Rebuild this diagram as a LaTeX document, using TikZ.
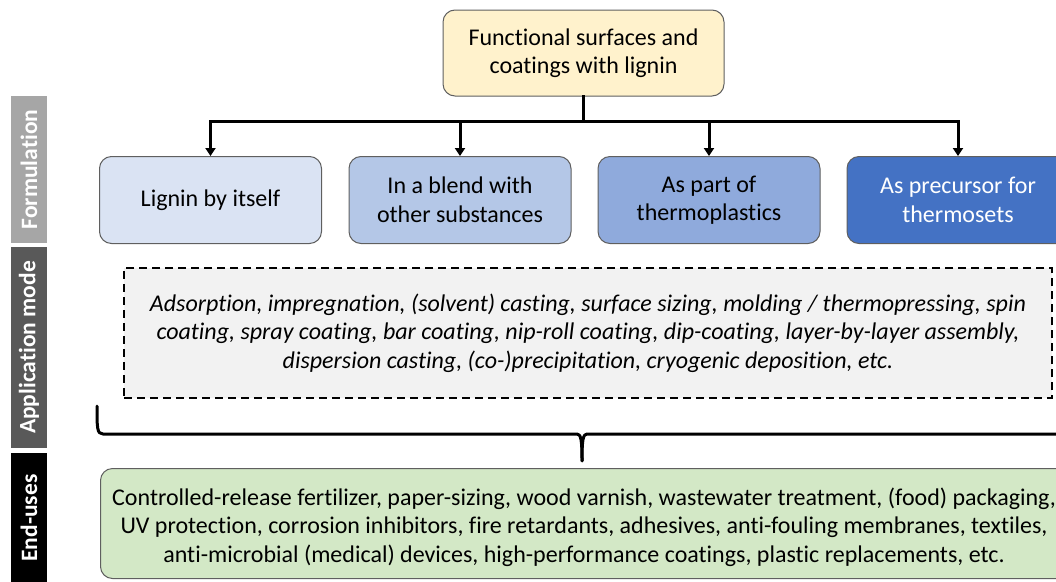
\documentclass[tikz,border=0pt]{standalone}
\usepackage{fontspec}
\setmainfont{Carlito}[RawFeature={-liga;-clig;-calt;-dlig}]
\usetikzlibrary{arrows.meta}
\definecolor{topfill}{HTML}{FFF2CC}
\definecolor{bfa}{HTML}{DAE3F3}
\definecolor{bfb}{HTML}{B4C7E7}
\definecolor{bfc}{HTML}{8FAADC}
\definecolor{bfd}{HTML}{4472C4}
\definecolor{dashfill}{HTML}{F2F2F2}
\definecolor{greenfill}{HTML}{D3E8C6}
\definecolor{bordergrey}{HTML}{5F5F5F}
\definecolor{labA}{HTML}{A6A6A6}
\definecolor{labB}{HTML}{595959}
\tikzset{
  x=1pt, y=-1pt,
  roundbox/.style={draw=bordergrey, line width=1pt, rounded corners=12pt, inner sep=0pt, align=center,
    font=\fontsize{24}{28.5}\selectfont},
  sidelabel/.style={inner sep=0pt, text=white, font=\bfseries\fontsize{23.5}{26}\selectfont},
  conn/.style={line width=3pt, line cap=rect},
  arr/.style={line width=3pt, -{Triangle[length=8pt,width=10pt]}},
}
\begin{document}
\begin{tikzpicture}
\useasboundingbox (0,0) rectangle (1056,581);
\begin{scope}
\clip (0,0) rectangle (1056,581);
% top
\node[roundbox, fill=topfill, minimum width=281pt, minimum height=86pt] (top) at (583.5,53) {Functional surfaces and\\coatings with lignin};
% formulation boxes
\node[roundbox, fill=bfa, minimum width=222pt, minimum height=87pt] (f1) at (210.5,200) {Lignin by itself};
\node[roundbox, fill=bfb, minimum width=222pt, minimum height=87pt] (f2) at (460,200) {In a blend with\\other substances};
\node[roundbox, fill=bfc, minimum width=222pt, minimum height=87pt] (f3) at (709,200) {As part of\\thermoplastics};
\node[roundbox, fill=bfd, text=white, minimum width=222pt, minimum height=87pt] (f4) at (958,200) {As precursor for\\thermosets};
% connectors
\coordinate (hub) at (top.south |- 0,121);
\draw[conn] (top.south) -- (hub);
\draw[conn] (f1.north |- hub) -- (f4.north |- hub);
\foreach \n in {f1,f2,f3,f4} \draw[arr] (\n.north |- hub) -- (\n.north);
% application mode
\node[draw=black, line width=2pt, dash pattern=on 8pt off 5pt, fill=dashfill, minimum width=928pt, minimum height=130pt, inner sep=0pt, align=center, font=\itshape\fontsize{24}{28.5}\selectfont] (app) at (588,333)
{Adsorption, impregnation, (solvent) casting, surface sizing, molding / thermopressing, spin\\
coating, spray coating, bar coating, nip-roll coating, dip-coating, layer-by-layer assembly,\\
dispersion casting, (co-)precipitation, cryogenic deposition, etc.};
% end uses
\node[roundbox, draw=bordergrey, fill=greenfill, minimum width=968pt, minimum height=110pt, anchor=north west] (end) at (100,468) {};
\node[align=center, font=\fontsize{24}{28.5}\selectfont, inner sep=0pt] (endtxt) at (584,527)
{Controlled-release fertilizer, paper-sizing, wood varnish, wastewater treatment, (food) packaging,\\
UV protection, corrosion inhibitors, fire retardants, adhesives, anti-fouling membranes, textiles,\\
anti-microbial (medical) devices, high-performance coatings, plastic replacements, etc.};
% brace
\coordinate (bl) at (97,406);
\coordinate (btip) at (582,461);
\draw[line width=3pt, line cap=round, line join=round]
  (bl) .. controls (97,428) and (97,434) .. (103,434) -- (577,434)
  .. controls (581,434) and (582,440) .. (btip);
\draw[line width=3pt, line join=round]
  (btip) .. controls (582,440) and (583,434) .. (587,434) -- (1070,434);
% side labels
\node[sidelabel, fill=labA, minimum width=147pt, minimum height=36pt, rotate=90] (lf) at (29,169.5) {Formulation};
\node[sidelabel, fill=labB, minimum width=201pt, minimum height=36pt, rotate=90] (la) at (29,347.5) {Application mode};
\node[sidelabel, fill=black, minimum width=130pt, minimum height=36pt, rotate=90] (le) at (29,518) {End-uses};
\end{scope}
\end{tikzpicture}
\end{document}
